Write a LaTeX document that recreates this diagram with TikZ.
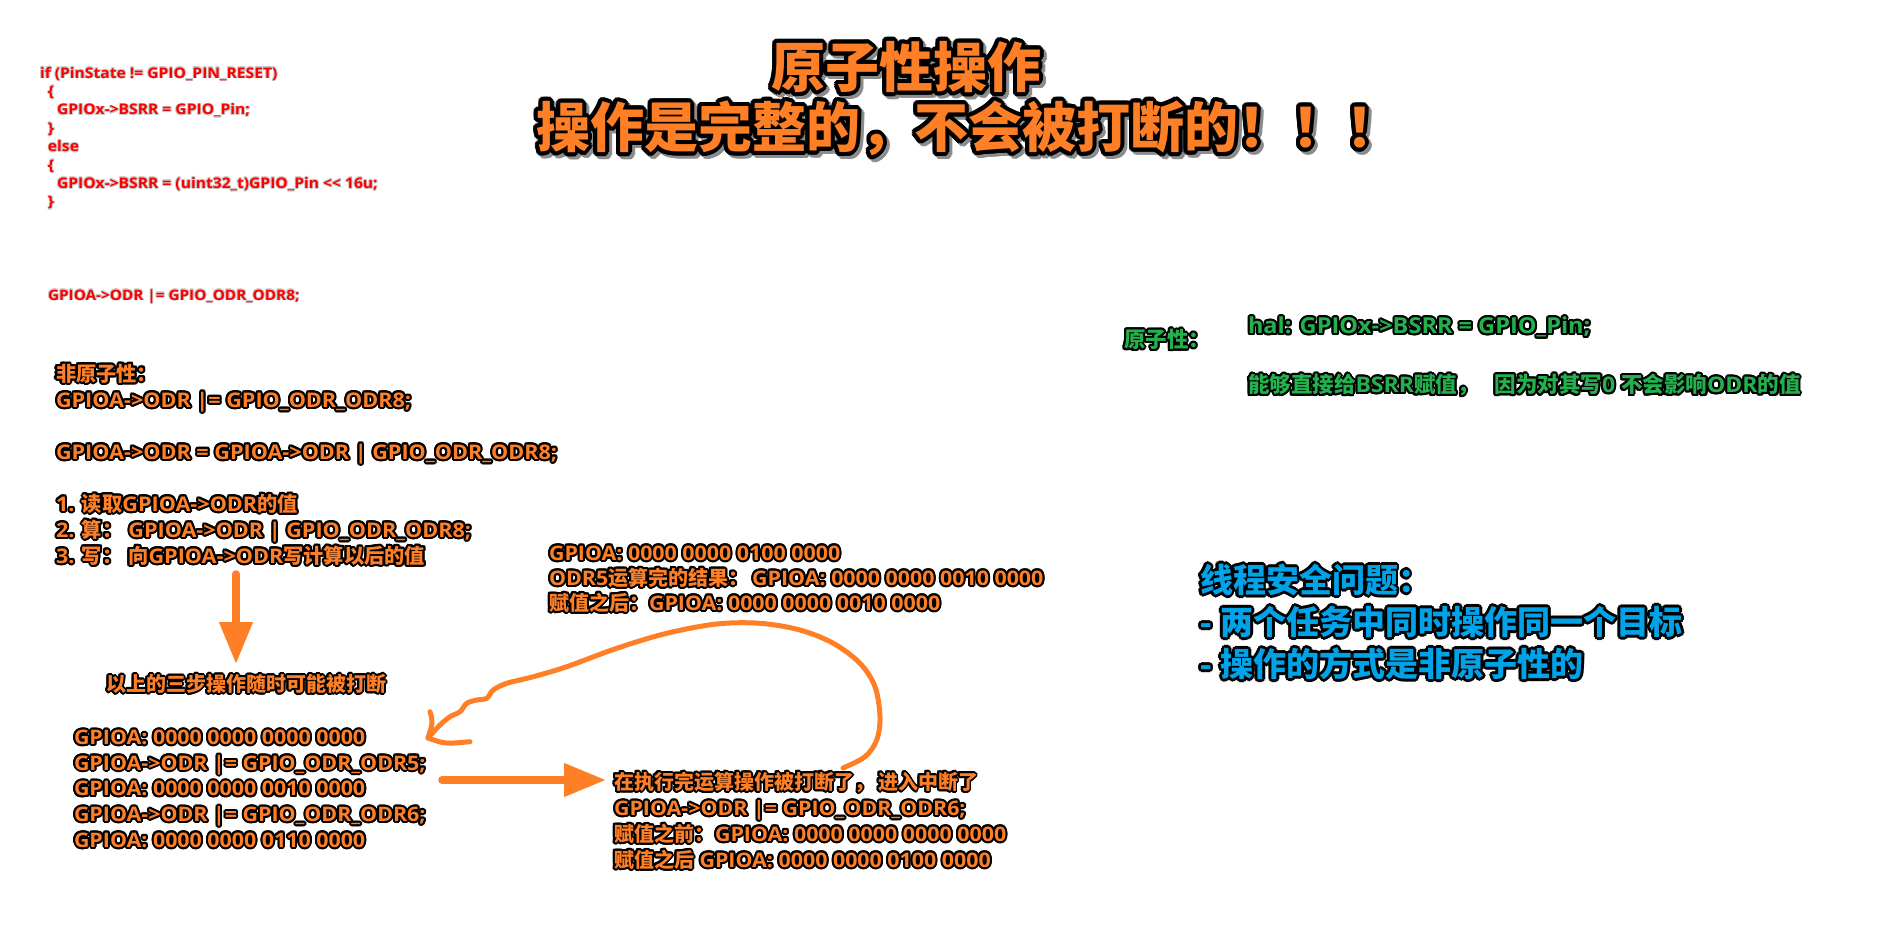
\documentclass[tikz,border=0pt]{standalone}
\usepackage{fontspec}
\setmainfont{Open Sans}[FakeStretch=1.07]
\newfontfamily\cjk{Noto Sans CJK SC}
\usepackage[copies]{contour}
\usetikzlibrary{arrows.meta}
\definecolor{orng}{HTML}{FF7F27}
\definecolor{grn}{HTML}{22B14C}
\definecolor{blu}{HTML}{00A2E8}
\definecolor{rd}{HTML}{FF0000}
\newcommand\zh[1]{{\cjk #1}}
\newcommand\ora[1]{\contourlength{2pt}\textcolor{orng}{\contour{black}{#1}}}
\newcommand\grn[1]{\contourlength{2pt}\textcolor{grn}{\contour{black}{#1}}}
\newcommand\blu[1]{\contourlength{2.6pt}\textcolor{blu}{\contour{black}{#1}}}
\newcommand\rdt[1]{\contourlength{0.8pt}\textcolor{rd}{\contour{black!20}{#1}}}
\newcommand\ttl[1]{\contourlength{4pt}\textcolor{orng}{\contour{black}{#1}}}
\newcommand\shd[1]{\contourlength{4pt}\textcolor{black!45}{\contour{black!45}{#1}}}
\begin{document}
\begin{tikzpicture}[x=1pt,y=-1pt,
  t/.style={inner sep=0pt, outer sep=0pt, anchor=base west, align=left},
  tc/.style={inner sep=0pt, outer sep=0pt, anchor=base, align=center},
  code/.style={t, font=\fontsize{14.6}{18.4}\selectfont\bfseries},
  body/.style={t, font=\fontsize{20.2}{26}\selectfont\bfseries},
  ttlf/.style={tc, font=\fontsize{54}{60}\selectfont\bfseries},
  arr/.style={draw=orng, line width=7.5pt, line cap=round, -{Triangle[length=42pt,width=32pt]}},
  curve/.style={draw=orng, line width=5pt, line cap=round, line join=round}]
\useasboundingbox (0,0) rectangle (1882,927);
\fill[white] (0,0) rectangle (1882,927);

% title
\node[ttlf] (t1s) at (909,90.5) {\shd{\zh{原子性操作}}};
\node[ttlf] (t1) at (906,87.5) {\ttl{\zh{原子性操作}}};
\node[ttlf] (t2s) at (971,150.5) {\shd{\zh{操作是完整的，不会被打断的！！！}}};
\node[ttlf] (t2) at (968,147.5) {\ttl{\zh{操作是完整的，不会被打断的！！！}}};

% red code (base anchor = last line)
\node[code] (hal) at (40,206.8) {\rdt{if (PinState != GPIO\_PIN\_RESET)}\\
\hspace*{8pt}\rdt{\{}\\
\hspace*{17pt}\rdt{GPIOx->BSRR = GPIO\_Pin;}\\
\hspace*{8pt}\rdt{\}}\\
\hspace*{8pt}\rdt{else}\\
\hspace*{8pt}\rdt{\{}\\
\hspace*{17pt}\rdt{GPIOx->BSRR = (uint32\_t)GPIO\_Pin <\kern0pt< 16u;}\\
\hspace*{8pt}\rdt{\}}};
\node[code, font=\fontsize{14.3}{18}\selectfont\bfseries] (odr) at (48,300) {\rdt{GPIOA->ODR |= GPIO\_ODR\_ODR8;}};

% non-atomic block
\node[body] (na) at (56,563.4) {\ora{\zh{非原子性：}}\\
\ora{GPIOA->ODR |= GPIO\_ODR\_ODR8;}\\[26pt]
\ora{GPIOA->ODR = GPIOA->ODR | GPIO\_ODR\_ODR8;}\\[26pt]
\ora{1. \zh{读取}GPIOA->ODR\zh{的值}}\\
\ora{2. \zh{算：}\hspace{6pt}GPIOA->ODR | GPIO\_ODR\_ODR8;}\\
\ora{3. \zh{写：}\hspace{6pt}\zh{向}GPIOA->ODR\zh{写计算以后的值}}};

\coordinate (d1) at (236,574);
\coordinate (d2) at (236,664);
\draw[arr] (d1) -- (d2);

\node[tc, font=\fontsize{20}{26}\selectfont\bfseries] (brk) at (246,691.5) {\ora{\zh{以上的三步操作随时可能被打断}}};

\node[body, font=\fontsize{20}{25.7}\selectfont\bfseries] (seq) at (74,847.2) {\ora{GPIOA: 0000 0000 0000 0000}\\
\ora{GPIOA->ODR |= GPIO\_ODR\_ODR5;}\\
\ora{GPIOA: 0000 0000 0010 0000}\\
\ora{GPIOA->ODR |= GPIO\_ODR\_ODR6;}\\
\ora{GPIOA: 0000 0000 0110 0000}};

\coordinate (h1) at (442,780);
\coordinate (h2) at (606,780);
\draw[arr] (h1) -- (h2);

\node[body, font=\fontsize{20}{26}\selectfont\bfseries] (irq) at (614,867.4) {\ora{\zh{在执行完运算操作被打断了，}\hspace{4pt}\zh{进入中断了}}\\
\ora{GPIOA->ODR |= GPIO\_ODR\_ODR6;}\\
\ora{\zh{赋值之前：}\hspace{1pt}GPIOA: 0000 0000 0000 0000}\\
\ora{\zh{赋值之后} GPIOA: 0000 0000 0100 0000}};

\node[body, font=\fontsize{20}{25}\selectfont\bfseries] (res) at (549,610.4) {\ora{GPIOA: 0000 0000 0100 0000}\\
\ora{ODR5\zh{运算完的结果：}\hspace{4pt}GPIOA: 0000 0000 0010 0000}\\
\ora{\zh{赋值之后：}GPIOA: 0000 0000 0010 0000}};

% curved return arrow
\coordinate (c0) at (843,768);
\coordinate (ctip) at (428,738);
\draw[curve] plot[smooth, tension=0.55] coordinates {(c0) (865,756.7) (876.7,740) (880,716.7) (875,686.7) (860,663.3) (833.3,643.3) (800,630) (760,623.3) (716.7,624) (666.7,633.3) (616.7,648.3) (566.7,666.7) (533.3,676.7) (506.7,683.3) (493.3,690) (486.7,698.3) (476.7,700) (466.7,703.3) (460,711.7) (450,716.7) (440,725) (ctip)};
\draw[curve] (430,711.7) .. controls (433,722) .. (ctip) .. controls (445,744) .. (470,741.7);

% atomic (green)
\node[body, font=\fontsize{21.5}{26}\selectfont\bfseries] (at) at (1124,347.6) {\grn{\zh{原子性：}}};
\node[body, font=\fontsize{22}{26}\selectfont\bfseries] (hl) at (1248,333.6) {\grn{hal: GPIOx->BSRR = GPIO\_Pin;}};
\node[body, font=\fontsize{21.5}{26}\selectfont\bfseries] (hl2) at (1248,392.6) {\grn{\zh{能够直接给}BSRR\zh{赋值，}\hspace{16pt}\zh{因为对其写}0 \zh{不会影响}ODR\zh{的值}}};

% thread safety (blue)
\node[t, font=\fontsize{33}{42}\selectfont\bfseries] (ts) at (1200,676.5) {\blu{\zh{线程安全问题：}}\\
\blu{- \zh{两个任务中同时操作同一个目标}}\\
\blu{- \zh{操作的方式是非原子性的}}};
\end{tikzpicture}
\end{document}
